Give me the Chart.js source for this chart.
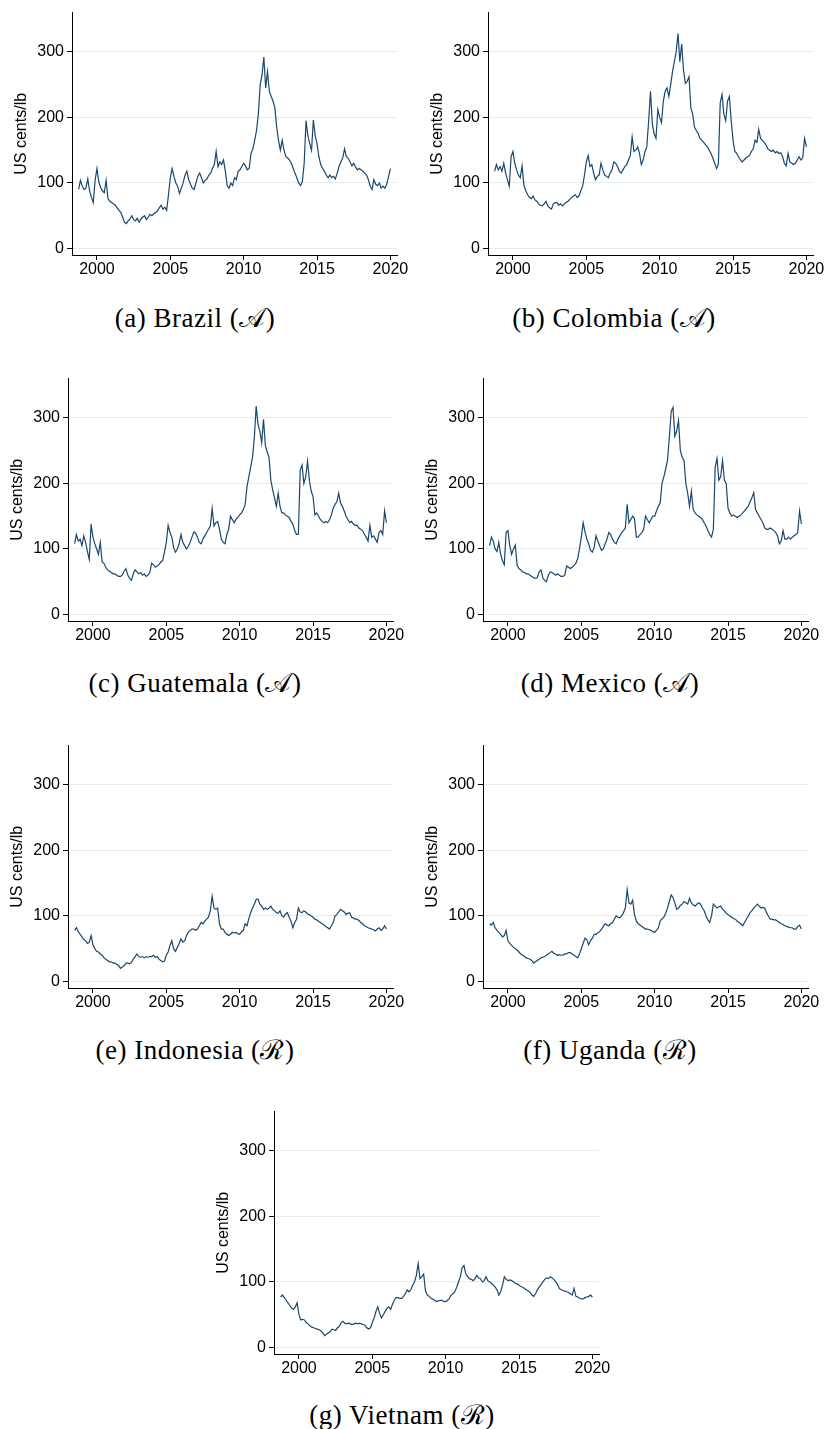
<!DOCTYPE html>
<html lang="en">
<head>
<meta charset="UTF-8">
<title>Coffee prices by origin</title>
<script src="https://cdn.jsdelivr.net/npm/chart.js"></script>
<style>
    body {
        margin: 0;
        background: #fff;
        width: 824px;
        height: 1429px;
        overflow: hidden;
        position: relative;
    }
    canvas {
        position: absolute;
    }
    .caption {
        position: absolute;
        transform: translate(-50%, -50%);
        font-family: 'Liberation Serif', 'DejaVu Serif', serif;
        font-size: 27px;
        letter-spacing: 0.5px;
        white-space: nowrap;
        color: #000;
    }
</style>
</head>
<body>
<script>
    // weekly-ish samples, one every 1/8 year from 1998.75 to 2020.0
    const YEAR_START = 1998.75;
    const YEAR_STEP = 0.125;
    const X_TICKS = [2000, 2005, 2010, 2015, 2020];
    const Y_TICKS = [0, 100, 200, 300];

    const BRAZIL = [
        90, 104,
        95, 90, 92, 106, 88, 78, 70, 104,
        122, 102, 93, 88, 85, 104, 76, 72,
        70, 68, 66, 62, 58, 55, 48, 40,
        38, 42, 45, 50, 44, 42, 46, 40,
        45, 48, 50, 44, 48, 52, 50, 53,
        55, 57, 62, 66, 60, 63, 58, 82,
        108, 122, 110, 100, 95, 84, 92, 100,
        112, 118, 105, 98, 92, 90, 100, 110,
        115, 108, 100, 104, 106, 112, 115, 122,
        128, 148, 125, 132, 128, 135, 118, 96,
        92, 100, 96, 108, 105, 118, 120, 125,
        130, 126, 120, 122, 145, 152, 165, 180,
        205, 250, 265, 292, 245, 270, 240, 232,
        225, 215, 185, 165, 150, 165, 150, 140,
        138, 135, 130, 122, 115, 108, 100, 96,
        102, 130, 195, 172, 160, 150, 196, 172,
        160, 140, 128, 122, 118, 112, 108, 112,
        108, 110, 106, 115, 125, 132, 138, 152,
        140, 138, 132, 126, 130, 124, 120, 122,
        120, 118, 115, 112, 105, 95, 90, 105,
        98, 96, 100, 92, 95, 92, 98, 110,
        122
    ];

    const COLOMBIA = [
        118, 128,
        120, 125, 118, 130, 115, 105, 95, 140,
        148, 130, 120, 112, 108, 126, 96, 88,
        82, 78, 76, 80, 74, 72, 68, 66,
        65, 68, 72, 65, 62, 60, 68, 70,
        70, 66, 68, 65, 68, 70, 72, 75,
        78, 80, 82, 78, 80, 88, 95, 112,
        132, 142, 125, 128, 115, 105, 110, 112,
        130, 120, 112, 110, 108, 115, 120, 132,
        130, 125, 118, 115, 120, 125, 128, 135,
        142, 170, 148, 150, 155, 145, 128, 135,
        148, 155, 195, 240, 190, 175, 168, 212,
        200, 192, 225, 240, 245, 232, 250, 270,
        285, 300, 328, 285, 312, 272, 252, 255,
        262, 215, 205, 185, 180, 175, 168, 165,
        162, 158, 155, 150, 145, 138, 130, 122,
        128, 222, 235, 205, 195, 225, 232, 195,
        165, 148, 145, 140, 135, 132, 135, 138,
        140, 142, 148, 152, 165, 162, 182, 168,
        165, 162, 158, 152, 150, 148, 150, 146,
        148, 145, 146, 140, 130, 126, 145, 132,
        130, 128, 130, 135, 140, 135, 138, 168,
        155
    ];

    const GUATEMALA = [
        108, 122,
        112, 115, 105, 120, 110, 96, 84, 138,
        118, 108, 100, 92, 110, 80, 78, 72,
        68, 66, 64, 62, 62, 60, 58, 58,
        60, 66, 70, 60, 55, 52, 62, 68,
        65, 62, 64, 60, 62, 58, 60, 64,
        78, 76, 72, 74, 76, 80, 82, 95,
        110, 136, 125, 118, 102, 95, 100, 108,
        122, 110, 105, 100, 104, 110, 118, 126,
        124, 118, 110, 108, 115, 120, 125, 130,
        135, 162, 135, 140, 142, 130, 115, 110,
        108, 122, 130, 150, 145, 140, 145, 148,
        152, 155, 160, 168, 195, 210, 225, 240,
        270, 318, 290, 280, 262, 298, 258, 248,
        240, 205, 190, 178, 165, 185, 165, 155,
        155, 152, 150, 148, 142, 138, 128, 122,
        122, 220, 228, 200, 210, 234, 205, 188,
        180, 152, 155, 150, 145, 142, 140, 142,
        140, 145, 152, 162, 168, 172, 185, 170,
        165, 158, 150, 145, 140, 142, 138, 136,
        136, 132, 130, 128, 122, 118, 112, 136,
        118, 120, 115, 110, 125, 128, 122, 158,
        140
    ];

    const MEXICO = [
        105, 118,
        112, 100, 96, 110, 92, 82, 76, 125,
        128, 105, 92, 100, 106, 75, 70, 68,
        65, 64, 62, 62, 60, 58, 56, 55,
        56, 65, 68, 56, 52, 50, 60, 65,
        64, 62, 60, 62, 60, 58, 58, 60,
        74, 72, 70, 72, 75, 78, 85, 100,
        118, 140, 126, 115, 108, 98, 95, 102,
        120, 112, 105, 98, 100, 108, 115, 125,
        122, 115, 110, 108, 115, 120, 125, 128,
        132, 168, 140, 145, 150, 146, 118, 118,
        122, 125, 130, 150, 145, 140, 145, 150,
        150, 158, 165, 170, 200, 210, 222, 235,
        270, 310, 316, 272, 280, 296, 250, 240,
        235, 200, 185, 165, 188, 160, 155, 152,
        150, 148, 145, 140, 135, 128, 122, 118,
        130, 225, 238, 205, 210, 235, 205, 200,
        162, 155, 150, 152, 150, 148, 150, 152,
        155, 158, 162, 165, 172, 178, 186, 160,
        155, 150, 145, 140, 132, 130, 130, 132,
        130, 128, 125, 120, 108, 112, 128, 115,
        115, 118, 115, 118, 120, 122, 125, 158,
        138
    ];

    const INDONESIA = [
        78, 82,
        76, 72, 68, 64, 62, 58, 60, 70,
        56, 50, 46, 45, 42, 40, 36, 34,
        32, 30, 30, 28, 28, 26, 24, 20,
        22, 24, 28, 28, 27, 29, 34, 38,
        42, 38, 37, 38, 36, 38, 37, 38,
        38, 40, 37, 38, 34, 32, 30, 31,
        40, 45, 55, 62, 50, 46, 52, 58,
        65, 60, 62, 70, 75, 78, 80, 80,
        78, 80, 85, 90, 88, 92, 95, 98,
        108, 130, 112, 110, 112, 88, 80, 80,
        75, 72, 70, 72, 75, 74, 75, 73,
        72, 76, 78, 88, 85, 96, 105, 112,
        118, 125, 126, 118, 115, 110, 112, 110,
        112, 115, 110, 108, 105, 104, 108, 100,
        98, 103, 105, 98, 92, 82, 90, 95,
        112, 106, 105, 108, 106, 103, 102, 100,
        98, 95, 94, 92, 90, 88, 86, 84,
        82, 80, 85, 90, 100, 102, 106, 110,
        108, 106, 102, 104, 105, 98, 97, 95,
        95, 93, 90, 88, 85, 84, 82, 81,
        80, 79, 77, 80, 82, 78, 80, 85,
        80
    ];

    const UGANDA = [
        88, 86,
        90, 82, 78, 75, 72, 68, 70, 78,
        62, 58, 55, 52, 50, 48, 45, 42,
        40, 38, 36, 35, 34, 32, 28, 30,
        32, 34, 36, 37, 38, 40, 42, 44,
        46, 43, 42, 40, 41, 40, 40, 42,
        42, 44, 44, 42, 40, 38, 36, 42,
        50, 58, 66, 64, 56, 62, 66, 72,
        72, 74, 76, 80, 84, 88, 86, 85,
        88, 90, 95, 100, 98, 97, 100, 105,
        112, 140, 120, 118, 124, 102, 92, 88,
        86, 84, 82, 80, 80, 79, 78, 76,
        75, 78, 82, 92, 96, 98, 104, 112,
        122, 132, 128, 120, 110, 112, 116, 118,
        122, 120, 118, 127, 120, 117, 115, 118,
        120, 118, 112, 108, 100, 94, 90, 100,
        118, 115, 112, 114, 115, 110, 108, 104,
        102, 100, 98, 96, 95, 92, 90, 88,
        85, 90, 95, 100, 105, 108, 112, 115,
        118, 115, 112, 113, 112, 105, 100, 95,
        95, 94, 94, 92, 90, 88, 87, 85,
        84, 83, 82, 82, 80, 80, 84, 86,
        80
    ];

    const VIETNAM = [
        77, 80,
        76, 72, 68, 64, 60, 58, 62, 68,
        50, 42, 43, 42, 38, 36, 33, 31,
        30, 29, 28, 27, 25, 22, 18, 20,
        22, 24, 28, 27, 26, 30, 32, 38,
        40, 37, 36, 37, 36, 35, 36, 37,
        36, 37, 36, 35, 34, 30, 28, 30,
        38, 45, 55, 62, 52, 45, 50, 55,
        60, 62, 58, 66, 72, 76, 76, 75,
        75, 78, 82, 88, 85, 88, 95, 100,
        110, 128, 105, 108, 112, 86, 80, 78,
        75, 74, 72, 70, 71, 72, 72, 70,
        70, 72, 75, 80, 82, 85, 92, 100,
        108, 122, 125, 112, 108, 105, 104, 102,
        105, 110, 106, 105, 100, 102, 108, 102,
        100, 98, 95, 92, 88, 80, 85, 95,
        108, 104, 102, 103, 102, 100, 98, 97,
        95, 93, 92, 90, 88, 86, 84, 80,
        78, 82, 88, 92, 96, 100, 104, 106,
        105, 108, 106, 104, 100, 96, 90, 88,
        87, 86, 85, 84, 82, 80, 90, 78,
        77, 75, 74, 74, 76, 77, 78, 80,
        77
    ];

    const CAPTIONS = [
        '(a) Brazil (\u{1D49C})',
        '(b) Colombia (\u{1D49C})',
        '(c) Guatemala (\u{1D49C})',
        '(d) Mexico (\u{1D49C})',
        '(e) Indonesia (\u211B)',
        '(f) Uganda (\u211B)',
        '(g) Vietnam (\u211B)'
    ];
    const SERIES = [BRAZIL, COLOMBIA, GUATEMALA, MEXICO, INDONESIA, UGANDA, VIETNAM];

    // canvas corner and caption centre for each panel
    const LAYOUT = [
        { left: 6,   top: 0,    capX: 195, capY: 318 },
        { left: 422, top: 0,    capX: 614, capY: 318 },
        { left: 2,   top: 366,  capX: 195, capY: 683 },
        { left: 417, top: 366,  capX: 610, capY: 683 },
        { left: 2,   top: 733,  capX: 195, capY: 1048 },
        { left: 417, top: 733,  capX: 610, capY: 1048 },
        { left: 208, top: 1099, capX: 402, capY: 1413 }
    ];

    const LINE_COLOR = '#1a476f';
    const GRID_COLOR = '#e4edf0';
    const FONT = "'Liberation Sans', Arial, sans-serif";

    function makePanel(i) {
        const pos = LAYOUT[i];
        const canvas = document.createElement('canvas');
        canvas.width = 406;
        canvas.height = 285;
        canvas.style.left = pos.left + 'px';
        canvas.style.top = pos.top + 'px';
        document.body.appendChild(canvas);

        const cap = document.createElement('div');
        cap.className = 'caption';
        cap.style.left = pos.capX + 'px';
        cap.style.top = pos.capY + 'px';
        cap.textContent = CAPTIONS[i];
        document.body.appendChild(cap);

        const points = SERIES[i].map((v, k) => ({ x: YEAR_START + k * YEAR_STEP, y: v }));

        new Chart(canvas.getContext('2d'), {
            type: 'line',
            data: {
                datasets: [{
                    data: points,
                    borderColor: LINE_COLOR,
                    borderWidth: 1.2,
                    pointRadius: 0,
                    tension: 0,
                    fill: false
                }]
            },
            options: {
                responsive: false,
                animation: false,
                devicePixelRatio: 1,
                layout: { padding: { top: 8, right: 15, left: 0, bottom: 0 } },
                plugins: {
                    legend: { display: false },
                    tooltip: { enabled: false }
                },
                scales: {
                    x: {
                        type: 'linear',
                        min: 1998.3,
                        max: 2020.45,
                        afterBuildTicks: s => { s.ticks = X_TICKS.map(v => ({ value: v })); },
                        afterFit: s => { s.height = 30; },
                        ticks: {
                            color: '#000',
                            font: { family: FONT, size: 16 },
                            maxRotation: 0,
                            autoSkip: false,
                            padding: 0,
                            callback: v => String(v)
                        },
                        grid: { drawOnChartArea: false, tickLength: 5, tickColor: '#000' },
                        border: { color: '#000', width: 1 }
                    },
                    y: {
                        min: -10,
                        max: 360,
                        afterBuildTicks: s => { s.ticks = Y_TICKS.map(v => ({ value: v })); },
                        afterFit: s => { s.width = 66; },
                        ticks: {
                            color: '#000',
                            font: { family: FONT, size: 16 },
                            autoSkip: false,
                            padding: 3,
                            callback: v => String(v)
                        },
                        grid: { color: GRID_COLOR, tickLength: 5, tickColor: '#000' },
                        border: { color: '#000', width: 1 },
                        title: {
                            display: true,
                            text: 'US cents/lb',
                            color: '#000',
                            font: { family: FONT, size: 16 },
                            padding: { top: 6, bottom: 4 }
                        }
                    }
                }
            }
        });
    }

    for (let i = 0; i < SERIES.length; i++) {
        makePanel(i);
    }
</script>
</body>
</html>
